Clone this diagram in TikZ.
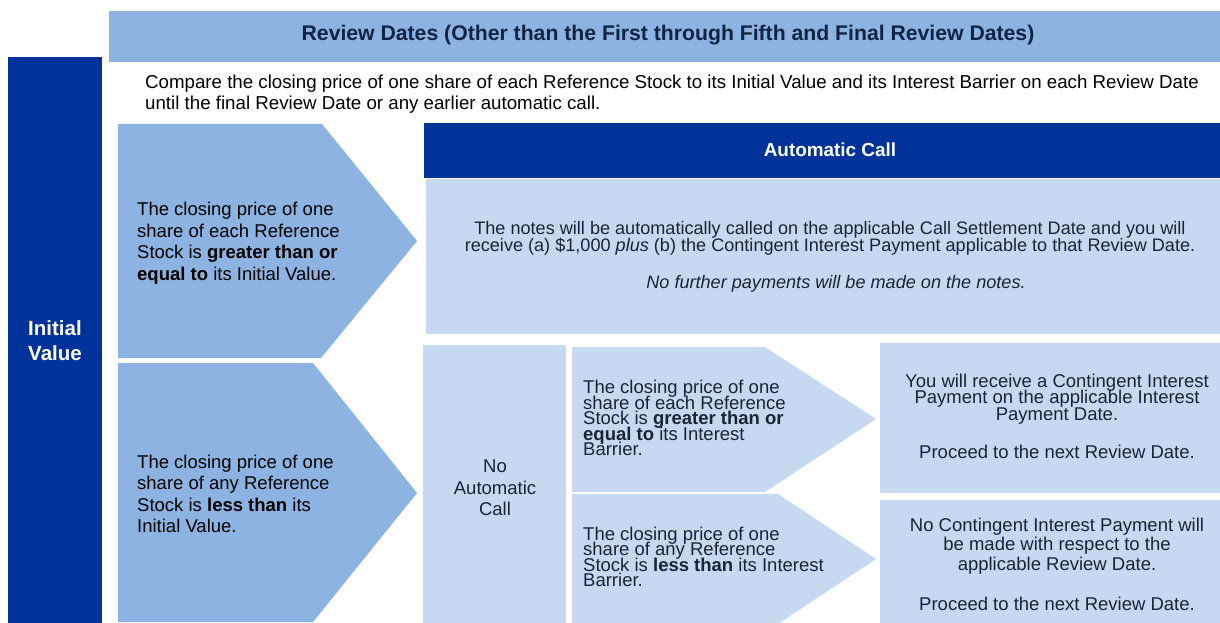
\documentclass[tikz,border=0pt]{standalone}
\usepackage{fontspec}
\setmainfont{Liberation Sans}
\definecolor{darkblue}{RGB}{0,51,153}
\definecolor{midblue}{RGB}{141,179,226}
\definecolor{lightblue}{RGB}{198,217,240}
\definecolor{navytext}{RGB}{15,36,68}
\definecolor{boxtext}{RGB}{25,35,55}
\newcommand{\mytightls}{\lineskiplimit=-50pt\lineskip=0pt\relax}
\tikzset{
  txt/.style={inner sep=0pt, font={\fontsize{18.5}{21.5}\selectfont}},
  tighttxt/.style={inner sep=0pt, font={\fontsize{18.5}{15.5}\selectfont\mytightls}, text=boxtext},
}
\begin{document}
\begin{tikzpicture}[x=1pt,y=-1pt]
\useasboundingbox (0,0) rectangle (1220,623);
\clip (0,0) rectangle (1220,623);
\fill[white] (0,0) rectangle (1220,623);
% top header
\fill[midblue] (109,11) rectangle (1220,62);
\node[txt, font={\fontsize{21.2}{24}\selectfont\bfseries}, text=navytext] (hdr) at (668,35) {Review Dates (Other than the First through Fifth and Final Review Dates)};
% left bar
\fill[darkblue] (8,57) rectangle (102,623);
\node[txt, font={\fontsize{20.5}{25}\selectfont\bfseries}, text=white, align=center] (init) at (55,341) {Initial\\Value};
% compare text
\node[txt, font={\fontsize{18.7}{21}\selectfont}, align=left, anchor=west, text=black] (cmp) at (145,94) {Compare the closing price of one share of each Reference Stock to its Initial Value and its Interest Barrier on each Review Date\\until the final Review Date or any earlier automatic call.};
% chevron A
\fill[midblue] (118,124) -- (322,124) -- (417,241) -- (321,358) -- (118,358) -- cycle;
\node[txt, align=left, anchor=west, text=black] (chA) at (137,243) {The closing price of one\\share of each Reference\\Stock is \textbf{greater than or}\\\textbf{equal to} its Initial Value.};
% chevron B
\fill[midblue] (118,363) -- (313,363) -- (417,493) -- (313,622) -- (118,622) -- cycle;
\node[txt, align=left, anchor=west, text=black] (chB) at (137,494) {The closing price of one\\share of any Reference\\Stock is \textbf{less than} its\\Initial Value.};
% automatic call header and body
\fill[darkblue] (424,123) rectangle (1220,178);
\node[txt, font={\fontsize{18.9}{21}\selectfont\bfseries}, text=white] (achdr) at (830,150) {Automatic Call};
\fill[lightblue] (426,179) rectangle (1220,334);
\node[txt, font={\fontsize{18.1}{17}\selectfont\mytightls}, align=center, text=boxtext] (acb1) at (830,238) {The notes will be automatically called on the applicable Call Settlement Date and you will\\receive (a) \$1,000 \textit{plus} (b) the Contingent Interest Payment applicable to that Review Date.};
\node[txt, font={\fontsize{18.1}{17}\selectfont\itshape}, text=boxtext] (acb2) at (836,284) {No further payments will be made on the notes.};
% no automatic call
\fill[lightblue] (423,345) rectangle (566,623);
\node[txt, align=center, text=boxtext] (noac) at (495,488) {No\\Automatic\\Call};
% mid chevrons
\fill[lightblue] (572,347) -- (765,347) -- (876,419) -- (765,492) -- (572,492) -- cycle;
\node[tighttxt, align=left, anchor=west] (mA) at (583,418) {The closing price of one\\share of each Reference\\Stock is \textbf{greater than or}\\\textbf{equal to} its Interest\\Barrier.};
\fill[lightblue] (572,494) -- (778,494) -- (876,559) -- (778,624) -- (572,624) -- cycle;
\node[tighttxt, align=left, anchor=west] (mB) at (583,557) {The closing price of one\\share of any Reference\\Stock is \textbf{less than} its Interest\\Barrier.};
% right boxes
\fill[lightblue] (880,343) rectangle (1220,493);
\node[txt, font={\fontsize{18.5}{16.5}\selectfont\mytightls}, align=center, text=boxtext] (rA1) at (1057,399) {You will receive a Contingent Interest\\Payment on the applicable Interest\\Payment Date.};
\node[txt, text=boxtext] (rA2) at (1057,452) {Proceed to the next Review Date.};
\fill[lightblue] (880,500) rectangle (1220,623);
\node[txt, font={\fontsize{18.5}{19.5}\selectfont}, align=center, text=boxtext] (rB1) at (1057,546) {No Contingent Interest Payment will\\be made with respect to the\\applicable Review Date.};
\node[txt, text=boxtext] (rB2) at (1057,604) {Proceed to the next Review Date.};
\end{tikzpicture}
\end{document}
